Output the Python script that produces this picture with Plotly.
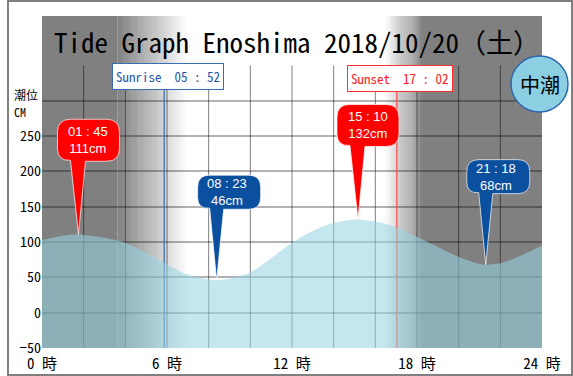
import plotly.graph_objects as go

# ---------------- data ----------------
hours = list(range(25))
hourly_cm = [103, 109, 110, 106, 99, 85, 68, 54, 47, 48, 57, 77, 99, 116, 127, 132,
             129, 121, 107, 93, 79, 69, 70, 81, 95]

extreme_times = ["01:45", "08:23", "15:10", "21:18"]
extreme_cm = [111, 46, 132, 68]
extreme_kind = ["high", "low", "high", "low"]

sunrise = "05:52"
sunset = "17:02"
tide_name = "中潮"
title_text = "Tide Graph Enoshima 2018/10/20（土）"
y_label_lines = ["潮位", "CM"]
x_tick_vals = [0, 6, 12, 18, 24]
x_tick_text = ["0 時", "6 時", "12 時", "18 時", "24 時"]
y_tick_vals = [-50, 0, 50, 100, 150, 200, 250, 300]
y_tick_text = ["−50", "0", "50", "100", "150", "200", "250", ""]


def to_h(s):
    h, m = s.split(":")
    return int(h) + int(m) / 60.0


ext_h = [to_h(t) for t in extreme_times]
pts = sorted(list(zip(hours, hourly_cm)) + list(zip(ext_h, extreme_cm)))
curve_x = [p[0] for p in pts]
curve_y = [p[1] for p in pts]
sunrise_h = to_h(sunrise)
sunset_h = to_h(sunset)

Y_MIN, Y_MAX = -50, 420
W, H = 573, 376
ML, MR, MT, MB = 42, 31, 16, 28
PW, PH = W - ML - MR, H - MT - MB
MONO = "Noto Sans Mono CJK JP, Noto Sans CJK JP"


def px(p):  # pixel x -> paper
    return (p - ML) / PW


def py(p):  # pixel y -> paper
    return (H - MB - p) / PH


fig = go.Figure()

# tide fill
fig.add_trace(go.Scatter(x=curve_x, y=[Y_MIN] * len(curve_x), mode="lines",
                         line=dict(width=0), hoverinfo="skip", showlegend=False))
fig.add_trace(go.Scatter(x=curve_x, y=curve_y, mode="lines",
                         line=dict(width=0, shape="spline", smoothing=0.8),
                         fill="tonexty", fillcolor="rgba(151,211,225,0.57)",
                         hoverinfo="skip", showlegend=False))

shapes = []

# night / day background with gradients
GRAY = 128


def gcol(f):  # f: 0 = gray, 1 = white
    v = int(round(GRAY + (255 - GRAY) * f))
    return f"rgb({v},{v},{v})"


dawn0, dawn1 = sunrise_h - 2.25, sunrise_h + 1.1
dusk0, dusk1 = sunset_h - 0.6, sunset_h + 1.25
shapes.append(dict(type="rect", xref="x", yref="paper", x0=0, x1=dawn0, y0=0, y1=1,
                   fillcolor=gcol(0), line=dict(width=0), layer="below"))
shapes.append(dict(type="rect", xref="x", yref="paper", x0=dusk1, x1=24, y0=0, y1=1,
                   fillcolor=gcol(0), line=dict(width=0), layer="below"))
N = 40
for a, b, rev in [(dawn0, dawn1, False), (dusk0, dusk1, True)]:
    dt = (b - a) / N
    for i in range(N):
        f = (i + 0.5) / N
        if rev:
            f = 1 - f
        shapes.append(dict(type="rect", xref="x", yref="paper",
                           x0=a + i * dt, x1=a + (i + 1) * dt + dt * 0.3, y0=0, y1=1,
                           fillcolor=gcol(f), line=dict(width=0), layer="below"))

# vertical grid (every 2 h, stops below title band)
for h in range(2, 24, 2):
    shapes.append(dict(type="line", xref="x", yref="y", x0=h, x1=h, y0=Y_MIN, y1=350,
                       line=dict(color="rgba(0,0,0,0.5)", width=1), layer="between"))

# sunrise / sunset lines
shapes.append(dict(type="line", xref="x", yref="y", x0=sunrise_h, x1=sunrise_h,
                   y0=Y_MIN, y1=318, line=dict(color="#3566ad", width=1.2), layer="between"))
shapes.append(dict(type="line", xref="x", yref="y", x0=sunset_h, x1=sunset_h,
                   y0=Y_MIN, y1=314, line=dict(color="#ff4444", width=1.2), layer="between"))


def balloon(x0, x1, y0, y1, r):
    return (f"M 0,0 L 7,{y0} L {x1 - r},{y0} Q {x1},{y0} {x1},{y0 + r} "
            f"L {x1},{y1 - r} Q {x1},{y1} {x1 - r},{y1} L {x0 + r},{y1} "
            f"Q {x0},{y1} {x0},{y1 - r} L {x0},{y0 + r} Q {x0},{y0} {x0 + r},{y0 + 1} Z")


annotations = []
for t, s, v, k in zip(ext_h, extreme_times, extreme_cm, extreme_kind):
    if k == "high":
        col, path, ys = "#ff0000", balloon(-21, 41, 73, 115, 13), 94
    else:
        col, path, ys = "#0b4f9f", balloon(-19, 44, 71, 105, 12), 88
    shapes.append(dict(type="path", xref="x", yref="y", xsizemode="pixel",
                       ysizemode="pixel", xanchor=t, yanchor=v, path=path,
                       fillcolor=col, line=dict(color="rgba(255,255,255,0.7)", width=1),
                       layer="above"))
    hh, mm = s.split(":")
    annotations.append(dict(x=t, y=v, xref="x", yref="y", showarrow=False,
                            xanchor="center", yanchor="middle",
                            xshift=10, yshift=ys,
                            text=f"{hh} : {mm}<br>{v}cm",
                            font=dict(family="Liberation Sans", size=13, color="white")))

# sunrise / sunset boxes
annotations.append(dict(x=sunrise_h, y=334, xref="x", yref="y", showarrow=False, xshift=4,
                        xanchor="center", yanchor="middle",
                        text=f"Sunrise  {sunrise.replace(':', ' : ')}",
                        font=dict(family=MONO, size=13, color="#2356a8"),
                        bgcolor="white", bordercolor="#3a6db5", borderwidth=1, borderpad=3))
annotations.append(dict(x=sunset_h, y=331, xref="x", yref="y", showarrow=False, xshift=3,
                        xanchor="center", yanchor="middle",
                        text=f"Sunset  {sunset.replace(':', ' : ')}",
                        font=dict(family=MONO, size=13, color="#ff1a1a"),
                        bgcolor="white", bordercolor="#ff3030", borderwidth=1, borderpad=3))

# title
annotations.append(dict(x=px(297), y=py(42), xref="paper", yref="paper", showarrow=False,
                        xanchor="center", yanchor="middle",
                        text=title_text,
                        font=dict(family=MONO, size=27, color="black")))

# y label (two lines)
for txt, yc in zip(y_label_lines, [94, 111]):
    annotations.append(dict(x=px(13), y=py(yc), xref="paper", yref="paper",
                            showarrow=False, xanchor="left", yanchor="middle",
                            borderpad=0,
                            text=txt, font=dict(family=MONO, size=12, color="black")))

# tide name circle
shapes.append(dict(type="circle", xref="paper", yref="paper",
                   x0=px(511), x1=px(568), y0=py(112), y1=py(56),
                   fillcolor="#8ccfe3", line=dict(color="#2e68ad", width=1.5), layer="above"))
annotations.append(dict(x=px(539.5), y=py(84), xref="paper", yref="paper", showarrow=False,
                        xanchor="center", yanchor="middle",
                        text=tide_name,
                        font=dict(family="Noto Sans CJK JP", size=20, color="black")))

# outer frame
shapes.append(dict(type="rect", xref="paper", yref="paper",
                   x0=px(8), x1=px(572), y0=py(375), y1=py(1),
                   line=dict(color="#808080", width=2), fillcolor="rgba(0,0,0,0)",
                   layer="above"))

fig.update_layout(
    width=W, height=H,
    margin=dict(l=ML, r=MR, t=MT, b=MB, pad=0, autoexpand=False),
    paper_bgcolor="white", plot_bgcolor="white",
    showlegend=False,
    shapes=shapes, annotations=annotations,
    xaxis=dict(range=[0, 24], tickvals=x_tick_vals, ticktext=x_tick_text,
               showgrid=False, zeroline=False, showline=False, ticks="",
               ticklabelstandoff=5,
               tickfont=dict(family=MONO, size=15, color="black"),
               fixedrange=True),
    yaxis=dict(range=[Y_MIN, Y_MAX], tickvals=y_tick_vals, ticktext=y_tick_text,
               showgrid=True, gridcolor="rgba(0,0,0,0.3)", gridwidth=2,
               zeroline=False, showline=False, ticks="",
               tickfont=dict(family=MONO, size=14, color="black"),
               fixedrange=True),
)

fig.write_html("out.html", config={"displayModeBar": False},
               post_script="document.body.style.margin='0';document.body.style.padding='0';")
